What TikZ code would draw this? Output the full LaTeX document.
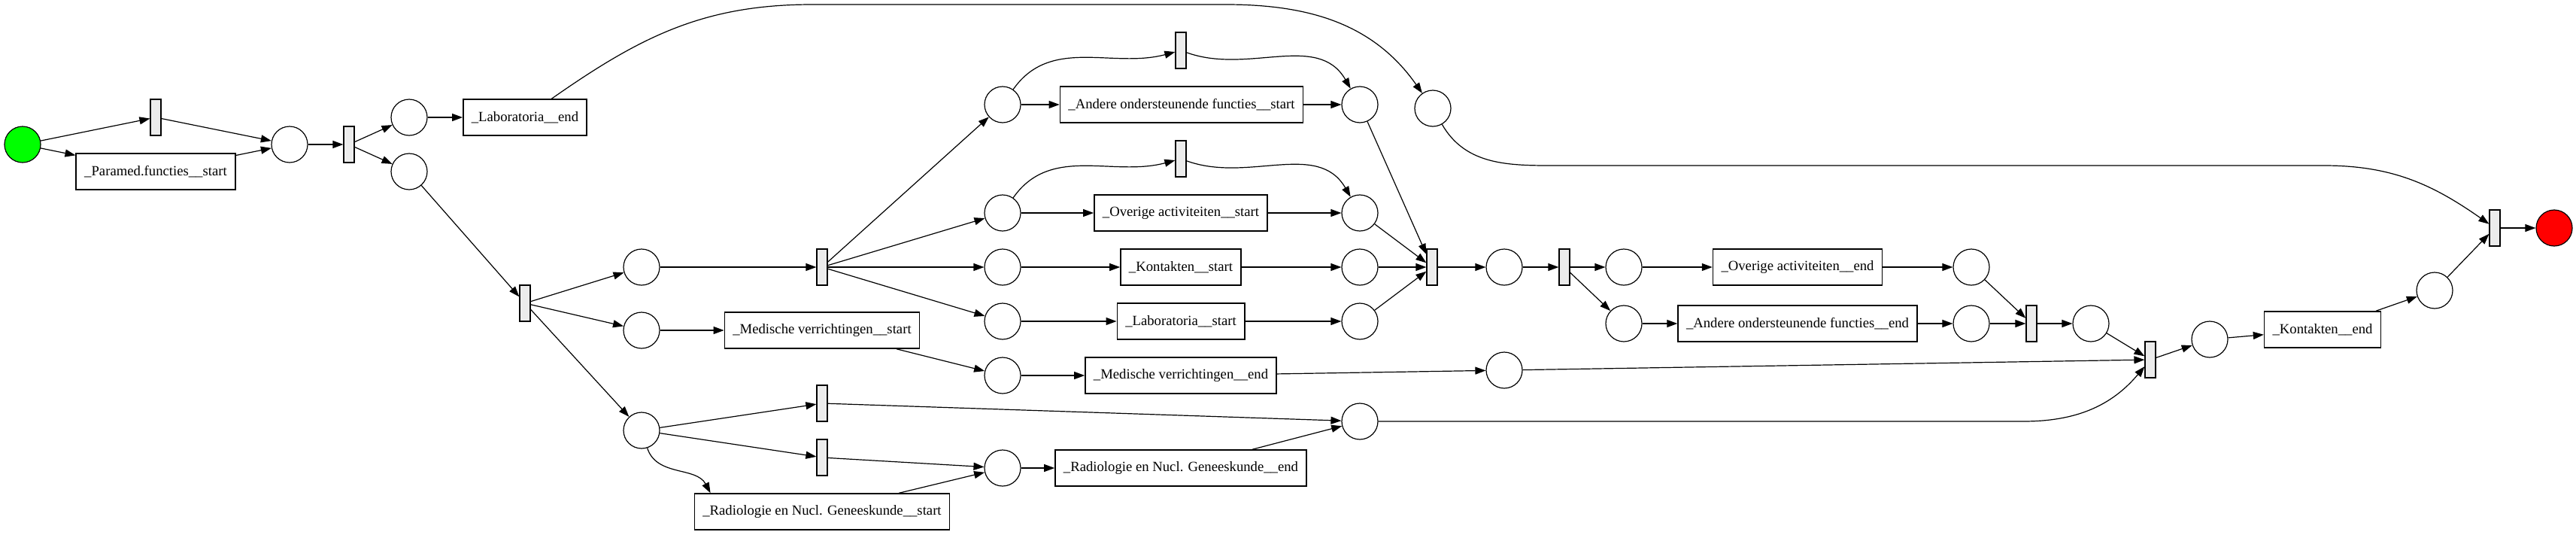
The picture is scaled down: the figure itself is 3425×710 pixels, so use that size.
\documentclass[tikz,border=0pt]{standalone}
\usepackage{fontspec}
\setmainfont{Liberation Serif}
\usetikzlibrary{arrows.meta}
\definecolor{pnGreen}{RGB}{0,255,0}
\definecolor{pnRed}{RGB}{255,0,0}
\definecolor{pnGray}{RGB}{236,236,236}

\begin{document}
\begin{tikzpicture}[x=1pt, y=-1pt,
  place/.style={draw, circle, minimum size=48pt, inner sep=0pt, line width=1.2pt},
  trans/.style={draw, rectangle, minimum width=14pt, minimum height=48pt,
                inner sep=0pt, fill=pnGray, line width=1.2pt},
  task/.style={draw, rectangle, minimum height=48pt, inner xsep=11pt,
               line width=1.5pt, font=\fontsize{18.7}{22}\selectfont},
  flow/.style={-{Triangle[length=14pt, width=10pt]}, line width=1.2pt},
]
  \useasboundingbox (0,0) rectangle (3425,710);

  % start and first split
  \node[place, fill=pnGreen] (src) at (30,192) {};
  \node[trans] (t1) at (207,156) {};
  \node[task] (paramed) at (207,228) {\_Paramed.functies\_\_start};
  \node[place] (p1) at (385,192) {};
  \node[trans] (t2) at (464,192) {};
  \node[place] (p2) at (544,156) {};
  \node[place] (p3) at (544,228) {};
  \node[task] (labend) at (698,156) {\_Laboratoria\_\_end};
  \node[place] (plabend) at (1905,144) {};
  \node[trans] (ts) at (698,403) {};
  \node[place] (pm0) at (853,355) {};
  \node[place] (pmv1) at (853,439) {};
  \node[place] (pr0) at (853,572) {};
  \node[trans] (tf) at (1093,355) {};
  \node[task] (mvstart) at (1093,439) {\_Medische verrichtingen\_\_start};
  \node[trans] (tr1) at (1093,536) {};
  \node[trans] (tr2) at (1093,608) {};
  \node[task] (rstart) at (1093,680) {\_Radiologie en Nucl. Geneeskunde\_\_start};

  % middle column
  \node[place] (pa1) at (1333,139) {};
  \node[place] (po1) at (1333,283) {};
  \node[place] (pk1) at (1333,355) {};
  \node[place] (pl1) at (1333,427) {};
  \node[place] (pmv2) at (1333,499) {};
  \node[place] (pr1) at (1333,622) {};
  \node[trans] (ta) at (1570,67) {};
  \node[task] (astart) at (1571,139) {\_Andere ondersteunende functies\_\_start};
  \node[trans] (tov) at (1570,211) {};
  \node[task] (ostart) at (1570,283) {\_Overige activiteiten\_\_start};
  \node[task] (kstart) at (1570,355) {\_Kontakten\_\_start};
  \node[task] (lstart) at (1570,427) {\_Laboratoria\_\_start};
  \node[task] (mvend) at (1570,499) {\_Medische verrichtingen\_\_end};
  \node[task] (rend) at (1570,622) {\_Radiologie en Nucl. Geneeskunde\_\_end};
  \node[place] (pa2) at (1808,139) {};
  \node[place] (po2) at (1808,283) {};
  \node[place] (pk2) at (1808,355) {};
  \node[place] (pl2) at (1808,427) {};
  \node[place] (pr2) at (1808,560) {};

  % join and end
  \node[trans] (tj) at (1904,355) {};
  \node[place] (pj) at (2000,355) {};
  \node[place] (pmve) at (2000,492) {};
  \node[trans] (tf2) at (2080,355) {};
  \node[place] (poe1) at (2159,355) {};
  \node[place] (pae1) at (2159,430) {};
  \node[task] (oend) at (2390,355) {\_Overige activiteiten\_\_end};
  \node[task] (aend) at (2390,430) {\_Andere ondersteunende functies\_\_end};
  \node[place] (poe2) at (2621,355) {};
  \node[place] (pae2) at (2621,430) {};
  \node[trans] (tj2) at (2701,430) {};
  \node[place] (pj2) at (2780,430) {};
  \node[trans] (tj3) at (2859,478) {};
  \node[place] (pj3) at (2938,451) {};
  \node[task] (kend) at (3088,438) {\_Kontakten\_\_end};
  \node[place] (pke) at (3237,386) {};
  \node[trans] (tend) at (3317,303) {};
  \node[place, fill=pnRed] (sink) at (3396,303) {};

  % arcs
  \draw[flow] (src) -- (t1);
  \draw[flow] (src) -- (paramed);
  \draw[flow] (t1) -- (p1);
  \draw[flow] (paramed) -- (p1);
  \draw[flow] (p1) -- (t2);
  \draw[flow] (t2) -- (p2);
  \draw[flow] (t2) -- (p3);
  \draw[flow] (p2) -- (labend);
  \draw[flow] (labend) to[out=35, in=180] (1080,6) -- (1630,6) to[out=0, in=125] (plabend);
  \draw[flow] (p3) -- (ts);
  \draw[flow] (ts) -- (pm0);
  \draw[flow] (ts) -- (pmv1);
  \draw[flow] (ts) -- (pr0);
  \draw[flow] (pm0) -- (tf);
  \draw[flow] (tf) -- (pa1);
  \draw[flow] (tf) -- (po1);
  \draw[flow] (tf) -- (pk1);
  \draw[flow] (tf) -- (pl1);
  \draw[flow] (pmv1) -- (mvstart);
  \draw[flow] (mvstart) -- (pmv2);
  \draw[flow] (pr0) -- (tr1);
  \draw[flow] (pr0) -- (tr2);
  \draw[flow] (pr0) to[out=-72, in=118] ([xshift=22pt]rstart.north west);
  \draw[flow] (tr1) -- (pr2);
  \draw[flow] (tr2) -- (pr1);
  \draw[flow] (rstart) -- (pr1);
  \draw[flow] (pa1) to[out=55, in=195] (ta);
  \draw[flow] (pa1) -- (astart);
  \draw[flow] (ta) to[out=-20, in=120] (pa2);
  \draw[flow] (astart) -- (pa2);
  \draw[flow] (po1) to[out=55, in=195] (tov);
  \draw[flow] (po1) -- (ostart);
  \draw[flow] (tov) to[out=-20, in=120] (po2);
  \draw[flow] (ostart) -- (po2);
  \draw[flow] (pk1) -- (kstart);
  \draw[flow] (kstart) -- (pk2);
  \draw[flow] (pl1) -- (lstart);
  \draw[flow] (lstart) -- (pl2);
  \draw[flow] (pmv2) -- (mvend);
  \draw[flow] (mvend) -- (pmve);
  \draw[flow] (pr1) -- (rend);
  \draw[flow] (rend) -- (pr2);
  \draw[flow] (pa2) -- (tj);
  \draw[flow] (po2) -- (tj);
  \draw[flow] (pk2) -- (tj);
  \draw[flow] (pl2) -- (tj);
  \draw[flow] (tj) -- (pj);
  \draw[flow] (pj) -- (tf2);
  \draw[flow] (tf2) -- (poe1);
  \draw[flow] (tf2) -- (pae1);
  \draw[flow] (poe1) -- (oend);
  \draw[flow] (oend) -- (poe2);
  \draw[flow] (pae1) -- (aend);
  \draw[flow] (aend) -- (pae2);
  \draw[flow] (poe2) -- (tj2);
  \draw[flow] (pae2) -- (tj2);
  \draw[flow] (tj2) -- (pj2);
  \draw[flow] (pj2) -- (tj3);
  \draw[flow] (pmve) -- (tj3);
  \draw[flow] (pr2) -- (2690,560) to[out=0, in=230] (tj3);
  \draw[flow] (tj3) -- (pj3);
  \draw[flow] (pj3) -- (kend);
  \draw[flow] (kend) -- (pke);
  \draw[flow] (pke) -- (tend);
  \draw[flow] (plabend) to[out=-60, in=180] (2060,220) -- (3090,220) to[out=0, in=145] (tend);
  \draw[flow] (tend) -- (sink);
\end{tikzpicture}
\end{document}
